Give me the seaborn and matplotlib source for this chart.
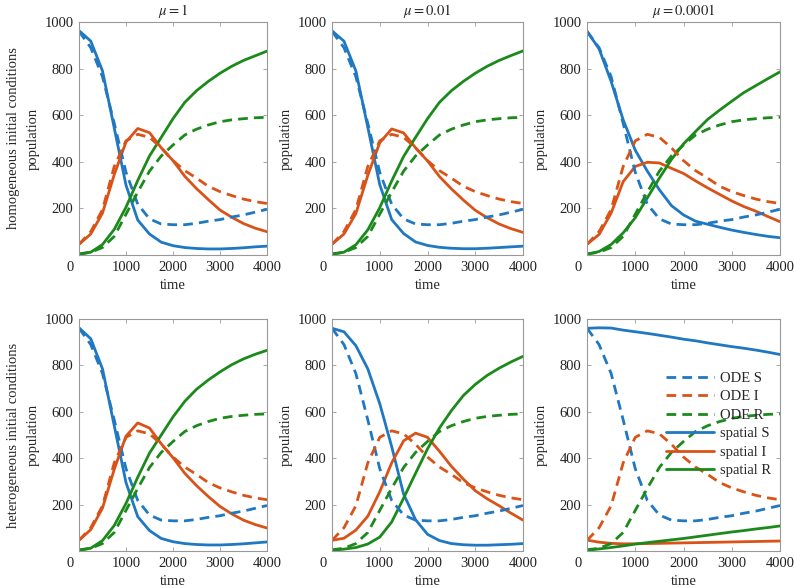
import numpy as np
import pandas as pd
import seaborn as sns
import matplotlib.pyplot as plt
from matplotlib.transforms import ScaledTranslation

# time grid (read every 250 time units)
time = [0, 250, 500, 750, 1000, 1250, 1500, 1750, 2000,
        2250, 2500, 2750, 3000, 3250, 3500, 3750, 4000]

# ODE solution (same in every panel)
ode_S = [960, 890, 765, 565, 355, 218, 155, 133, 130, 130, 136, 145, 152, 163, 172, 184, 196]
ode_I = [46, 100, 195, 380, 490, 518, 505, 460, 405, 362, 330, 295, 272, 255, 240, 229, 221]
ode_R = [5, 12, 32, 80, 175, 270, 360, 425, 472, 515, 540, 558, 572, 580, 585, 589, 591]

# spatial model, homogeneous initial conditions
hom_S_mu1 = [963, 918, 790, 545, 300, 150, 90, 55, 40, 32, 28, 26, 26, 28, 31, 35, 38]
hom_I_mu1 = [46, 90, 180, 345, 485, 543, 525, 460, 405, 338, 285, 238, 193, 162, 135, 115, 100]
hom_R_mu1 = [3, 12, 45, 110, 205, 320, 425, 505, 585, 655, 705, 745, 780, 810, 835, 855, 875]

hom_S_mu2 = [962, 918, 790, 548, 302, 152, 92, 56, 41, 33, 29, 27, 27, 29, 32, 35, 38]
hom_I_mu2 = [46, 90, 178, 342, 482, 541, 524, 460, 404, 337, 284, 236, 192, 160, 133, 113, 97]
hom_R_mu2 = [3, 12, 44, 108, 203, 318, 423, 505, 585, 655, 705, 745, 780, 810, 835, 856, 876]

hom_S_mu4 = [960, 885, 745, 580, 450, 360, 280, 212, 172, 145, 132, 119, 107, 97, 88, 80, 74]
hom_I_mu4 = [46, 88, 180, 315, 380, 398, 395, 372, 350, 318, 288, 260, 232, 208, 188, 165, 143]
hom_R_mu4 = [3, 15, 45, 95, 160, 245, 330, 410, 477, 530, 582, 622, 660, 697, 727, 757, 786]

# spatial model, heterogeneous initial conditions
het_S_mu1 = [962, 915, 785, 540, 295, 148, 88, 54, 40, 32, 28, 26, 26, 28, 31, 35, 39]
het_I_mu1 = [46, 92, 185, 352, 495, 552, 530, 462, 402, 335, 282, 235, 192, 160, 133, 114, 99]
het_R_mu1 = [3, 12, 45, 110, 205, 318, 422, 500, 578, 645, 697, 737, 772, 803, 828, 848, 865]

het_S_mu2 = [960, 945, 885, 785, 635, 450, 245, 135, 72, 45, 32, 27, 25, 25, 27, 29, 32]
het_I_mu2 = [46, 55, 90, 150, 255, 380, 475, 508, 490, 430, 365, 310, 260, 225, 195, 163, 133]
het_R_mu2 = [3, 8, 15, 30, 60, 125, 228, 335, 440, 530, 605, 670, 718, 757, 788, 815, 839]

het_S_mu4 = [960, 962, 961, 952, 945, 938, 930, 922, 913, 906, 897, 889, 881, 874, 866, 857, 847]
het_I_mu4 = [47, 38, 33, 31, 31, 32, 33, 34, 35, 36, 37, 38, 39, 40, 41, 42, 43]
het_R_mu4 = [3, 9, 15, 22, 30, 36, 42, 48, 54, 61, 68, 75, 82, 88, 95, 101, 108]

titles = [r'$\mu = 1$', r'$\mu = 0.01$', r'$\mu = 0.0001$']
row_labels = ['homogeneous initial conditions', 'heterogeneous initial conditions']

panels = [
    [(hom_S_mu1, hom_I_mu1, hom_R_mu1), (hom_S_mu2, hom_I_mu2, hom_R_mu2), (hom_S_mu4, hom_I_mu4, hom_R_mu4)],
    [(het_S_mu1, het_I_mu1, het_R_mu1), (het_S_mu2, het_I_mu2, het_R_mu2), (het_S_mu4, het_I_mu4, het_R_mu4)],
]

colors = ['#1f78c1', '#d95319', '#1b8a1b']
names = ['S', 'I', 'R']

sns.set_theme(style='white')
plt.rcParams['font.family'] = ['Liberation Serif', 'DejaVu Serif']
plt.rcParams['mathtext.fontset'] = 'stix'
plt.rcParams['font.size'] = 10.5

fig = plt.figure(figsize=(7.94, 5.88), dpi=100)

# axes boxes in pixels: (left, right), (top, bottom)
cols_px = [(79, 267), (332, 523), (587, 780)]
rows_px = [(22, 255), (319, 551)]

dash = (0, (3.5, 2.2))

for r, (top, bot) in enumerate(rows_px):
    for c, (lft, rgt) in enumerate(cols_px):
        ax = fig.add_axes([lft / 794, 1 - bot / 588, (rgt - lft) / 794, (bot - top) / 588])
        sp = panels[r][c]
        # spatial first, ODE dashes drawn on top
        for k in range(3):
            sns.lineplot(x=time, y=sp[k], ax=ax, color=colors[k], lw=2.0,
                         label='spatial ' + names[k])
        ode = [ode_S, ode_I, ode_R]
        for k in range(3):
            sns.lineplot(x=time, y=ode[k], ax=ax, color=colors[k], lw=2.0,
                         linestyle=dash, label='ODE ' + names[k])
        ax.set_xlim(0, 4000)
        ax.set_ylim(0, 1000)
        ax.set_xticks([0, 1000, 2000, 3000, 4000])
        ax.set_yticks([200, 400, 600, 800, 1000])
        ax.tick_params(direction='in', length=3, width=0.6, color='#999999',
                       top=True, right=True, bottom=True, left=True,
                       labelsize=10.5, labelcolor='#222222', pad=4)
        # the "0" label sits a bit left of the corner, as in the original
        lab0 = ax.get_xticklabels()[0]
        lab0.set_transform(lab0.get_transform() + ScaledTranslation(-0.09, 0, fig.dpi_scale_trans))
        for s in ax.spines.values():
            s.set_color('#999999')
            s.set_linewidth(0.8)
        ax.set_xlabel('time', fontsize=10.5, labelpad=4)
        if c == 0:
            ax.set_ylabel(row_labels[r] + '\npopulation', fontsize=10.5, labelpad=3,
                          linespacing=1.75)
        else:
            ax.set_ylabel('population', fontsize=10.5, labelpad=3)
        if r == 0:
            ax.set_title(titles[c], fontsize=10.5, pad=5)
        h, lab = ax.get_legend_handles_labels()
        if r == 1 and c == 2:
            order = [3, 4, 5, 0, 1, 2]
            ax.legend([h[i] for i in order], [lab[i] for i in order],
                      loc='upper right', bbox_to_anchor=(1.0, 0.81), frameon=False,
                      fontsize=10.5, handlelength=3.3, handletextpad=0.45,
                      labelspacing=0.36, borderaxespad=0.2)
        else:
            ax.get_legend().remove()

fig.savefig('out.png', dpi=100)
